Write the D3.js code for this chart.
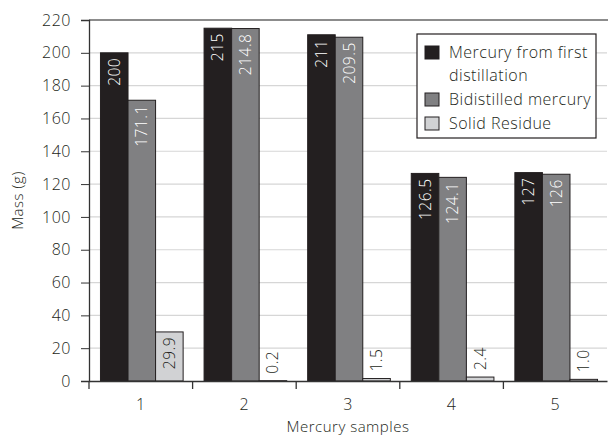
<!DOCTYPE html>
<html><head><meta charset="utf-8">
<script src="https://cdn.jsdelivr.net/npm/d3@7"></script>
<style>body{margin:0;background:#fff}svg{display:block}text{font-family:"Open Sans","Noto Sans",sans-serif;font-weight:300;letter-spacing:0.5px}</style>
</head><body>
<svg id="c" width="610" height="438"></svg>
<script>
const categories = ["1","2","3","4","5"];
const seriesNames = ["Mercury from first distillation","Bidistilled mercury","Solid Residue"];
const firstDistillation = [200, 215, 211, 126.5, 127];
const bidistilled = [171.1, 214.8, 209.5, 124.1, 126];
const solidResidue = [29.9, 0.2, 1.5, 2.4, 1.0];
const seriesLabels = [
  ["200","215","211","126.5","127"],
  ["171.1","214.8","209.5","124.1","126"],
  ["29.9","0.2","1.5","2.4","1.0"]
];
const yTicks = [0,20,40,60,80,100,120,140,160,180,200,220];
const colors = ["#231f20","#808082","#d1d2d4"];
const series = [firstDistillation, bidistilled, solidResidue];

const svg = d3.select("#c");
const m = {l:89, r:3, t:20, b:57};
const W = 610, H = 438;
const x = d3.scaleBand().domain(categories).range([m.l, W - m.r]).paddingInner(0).paddingOuter(0);
const y = d3.scaleLinear().domain([0,220]).range([H - m.b, m.t]);
const x1 = d3.scaleBand().domain([0,1,2]).range([0, x.bandwidth()]).paddingInner(0).paddingOuter(0.38);

// grid
svg.append("g").selectAll("line").data(yTicks.filter(d=>d>0 && d<220)).join("line")
  .attr("x1", m.l).attr("x2", W - m.r).attr("y1", d=>y(d)).attr("y2", d=>y(d))
  .attr("stroke", "#d6d6d6").attr("stroke-width", 1.2);
// top border
svg.append("line").attr("x1", m.l).attr("x2", W - 2).attr("y1", y(220)).attr("y2", y(220))
  .attr("stroke", "#666").attr("stroke-width", 1.5);

// bars
const groups = svg.append("g").selectAll("g").data(categories).join("g")
  .attr("transform", d => `translate(${x(d)+1},0)`);
series.forEach((s, si) => {
  groups.append("rect")
    .attr("x", x1(si)).attr("width", x1.bandwidth())
    .attr("y", (d,i) => y(s[i])).attr("height", (d,i) => y(0) - y(s[i]))
    .attr("fill", colors[si]).attr("stroke", "#231f20").attr("stroke-width", 1);
  groups.append("text")
    .attr("transform", (d,i) => {
      const cx = x1(si) + x1.bandwidth()/2 + 5.5;
      const h = y(0) - y(s[i]);
      const ty = h > 45 ? y(s[i]) + 5 : y(s[i]) - 7;
      return `translate(${cx},${ty}) rotate(-90)`;
    })
    .attr("text-anchor", (d,i) => (y(0) - y(s[i])) > 45 ? "end" : "start")
    .attr("font-size", 15.5)
    .attr("fill", si < 2 ? "#fff" : "#231f20")
    .text((d,i) => seriesLabels[si][i]);
});

// y axis
const ya = svg.append("g").attr("transform", `translate(${m.l},0)`)
  .call(d3.axisLeft(y).tickValues(yTicks).tickSize(8).tickPadding(10));
ya.select(".domain").attr("stroke", "#333").attr("stroke-width", 1.3);
ya.selectAll(".tick line").attr("stroke", "#333");
ya.selectAll("text").attr("font-size", 16).attr("fill", "#231f20").attr("font-family", null);

// x axis
const xa = svg.append("g").attr("transform", `translate(0,${y(0)})`)
  .call(d3.axisBottom(x).tickSize(0).tickPadding(18));
xa.select(".domain").attr("stroke", "#333").attr("stroke-width", 1.3);
xa.selectAll("text").attr("font-size", 16).attr("fill", "#231f20").attr("font-family", null);
svg.append("g").selectAll("line").data(categories).join("line")
  .attr("x1", d => x(d)).attr("x2", d => x(d)).attr("y1", y(0)).attr("y2", y(0)+8)
  .attr("stroke", "#333").attr("stroke-width", 1.3);

// axis titles
svg.append("text").attr("transform", `translate(23,${(y(0)+y(220))/2}) rotate(-90)`)
  .attr("text-anchor", "middle").attr("font-size", 15).attr("fill", "#231f20").text("Mass (g)");
svg.append("text").attr("x", (m.l + W - m.r)/2).attr("y", 432)
  .attr("text-anchor", "middle").attr("font-size", 15).attr("fill", "#231f20").text("Mercury samples");

// legend
const lg = svg.append("g").attr("transform", "translate(417,34)");
lg.append("rect").attr("width", 179).attr("height", 104).attr("fill", "#fff").attr("stroke", "#231f20").attr("stroke-width", 1.2);
const legendRows = [
  {lines:["Mercury from first","distillation"], y:12},
  {lines:["Bidistilled mercury"], y:59},
  {lines:["Solid Residue"], y:83}
];
legendRows.forEach((r, i) => {
  lg.append("rect").attr("x", 8).attr("y", r.y).attr("width", 14).attr("height", 13)
    .attr("fill", colors[i]).attr("stroke", "#231f20").attr("stroke-width", 1);
  r.lines.forEach((t, j) => {
    lg.append("text").attr("x", 32).attr("y", r.y + 12 + j*23).attr("font-size", 16)
      .attr("fill", "#231f20").text(t);
  });
});
</script>
</body></html>
